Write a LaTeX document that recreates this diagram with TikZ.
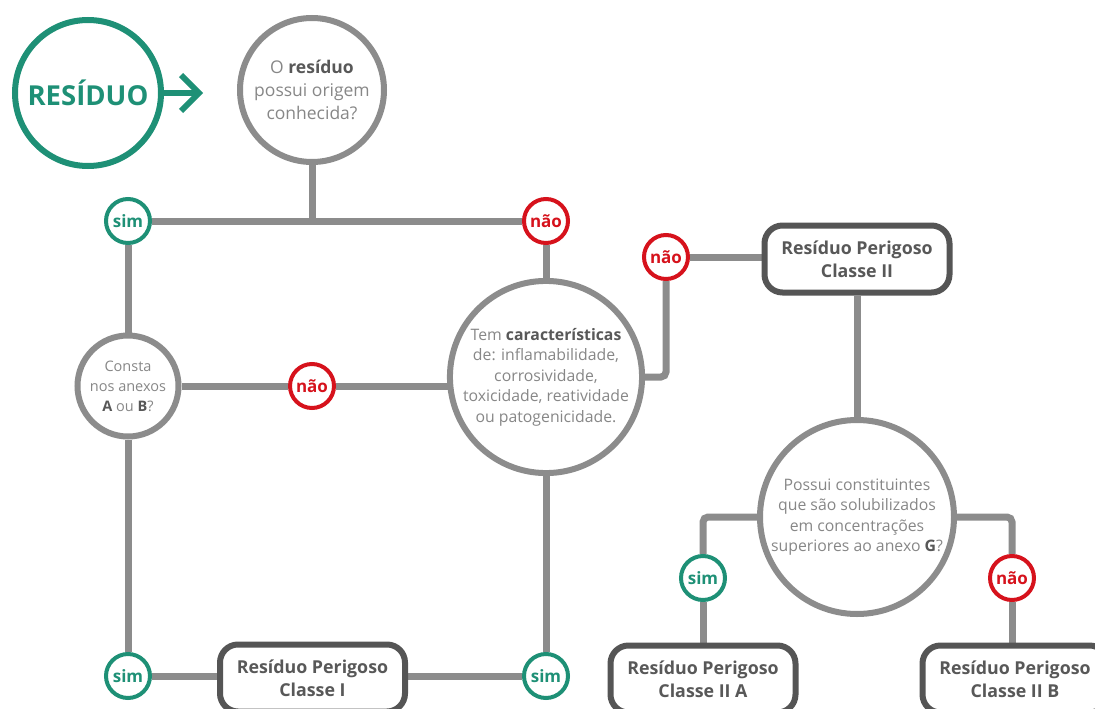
\documentclass[tikz,border=0pt]{standalone}
\usepackage{fontspec}
\setmainfont{Open Sans}
\usetikzlibrary{backgrounds}
\definecolor{teal1}{RGB}{30,144,118}
\definecolor{red1}{RGB}{214,18,28}
\definecolor{lgray}{RGB}{140,140,140}
\definecolor{dgray}{RGB}{85,85,85}
\definecolor{tgray}{RGB}{135,135,135}
\definecolor{bgray}{RGB}{88,88,88}
\newcommand\kw[1]{{\bfseries\color{bgray}#1}}
\begin{document}
\begin{tikzpicture}[x=1pt,y=-1pt,
 conn/.style={draw=lgray,line width=7pt},
 qcircle/.style={circle,draw=lgray,line width=6pt,fill=white,align=center,text=tgray,inner sep=0pt,font=\fontsize{15.8}{20.5}\selectfont},
 simc/.style={circle,draw=teal1,line width=4pt,fill=white,minimum size=44pt,inner sep=0pt,text=teal1,font=\fontsize{17}{17}\selectfont\bfseries},
 naoc/.style={simc,draw=red1,text=red1},
 result/.style={draw=dgray,line width=6pt,rounded corners=18pt,fill=white,minimum width=185pt,minimum height=67pt,align=center,text=bgray,font=\fontsize{17.8}{23}\selectfont\bfseries},
]
\useasboundingbox (0,0) rectangle (1095,709);
% start
\node[circle,draw=teal1,line width=6pt,minimum size=146pt,inner sep=0pt,text=teal1,font=\fontsize{27.5}{28}\selectfont\bfseries] (res) at (88,93) {RESÍDUO};
\coordinate (tip) at (199,93);
\draw[teal1,line width=6pt] (res.east) -- (tip);
\draw[teal1,line width=6pt,line join=miter] (tip) ++(-18,-18) -- (tip) -- ++(-18,18);
% questions
\node[qcircle,minimum size=144pt,font=\fontsize{17.5}{23}\selectfont] (q1) at (312,90) {O \kw{resíduo}\\possui origem\\conhecida?};
\node[qcircle,minimum size=101pt,font=\fontsize{14.5}{20}\selectfont] (consta) at (128,386) {Consta\\nos anexos\\\kw{A} ou \kw{B}?};
\node[qcircle,minimum size=192pt] (q3) at (546,377) {Tem \kw{características}\\de: inflamabilidade,\\corrosividade,\\toxicidade, reatividade\\ou patogenicidade.};
\node[qcircle,minimum size=194pt] (q4) at (857,517) {Possui constituintes\\que são solubilizados\\em concentrações\\superiores ao anexo \kw{G}?};
% answers
\node[simc] (sim1) at (128,221) {sim};
\node[naoc] (nao1) at (546,221) {não};
\node[naoc] (nao2) at (312,386) {não};
\node[simc] (sim3) at (128,676) {sim};
\node[simc] (sim4) at (546,676) {sim};
\node[naoc] (nao3) at (666,257) {não};
\node[simc] (sim5) at (703,578) {sim};
\node[naoc] (nao5) at (1012,578) {não};
% results
\node[result] (box1) at (312.5,678) {Resíduo Perigoso\\Classe I};
\node[result] (box2) at (857,259) {Resíduo Perigoso\\Classe II};
\node[result] (box3) at (703,679) {Resíduo Perigoso\\Classe II A};
\node[result] (box4) at (1015,679) {Resíduo Perigoso\\Classe II B};
% connectors
\begin{scope}[on background layer]
\draw[conn] (q1) -- (q1 |- sim1);
\draw[conn] (sim1) -- (nao1);
\draw[conn] (nao1) -- (q3);
\draw[conn] (sim1) -- (consta);
\draw[conn] (consta) -- (nao2) -- (nao2 -| q3);
\draw[conn] (consta) -- (sim3);
\draw[conn] (sim3) -- (sim3 -| box1);
\draw[conn] (box1 |- sim4) -- (sim4);
\draw[conn] (sim4) -- (q3);
\draw[conn,rounded corners=5pt] (q3) -| (nao3);
\draw[conn] (nao3) -- (nao3 -| box2);
\draw[conn] (box2) -- (q4);
\draw[conn,rounded corners=5pt] (q4.center) -| (sim5);
\draw[conn] (sim5) -- (box3);
\draw[conn,rounded corners=5pt] (q4.center) -| (nao5);
\draw[conn] (nao5) -- (nao5 |- box4.north);
\end{scope}
\end{tikzpicture}
\end{document}
